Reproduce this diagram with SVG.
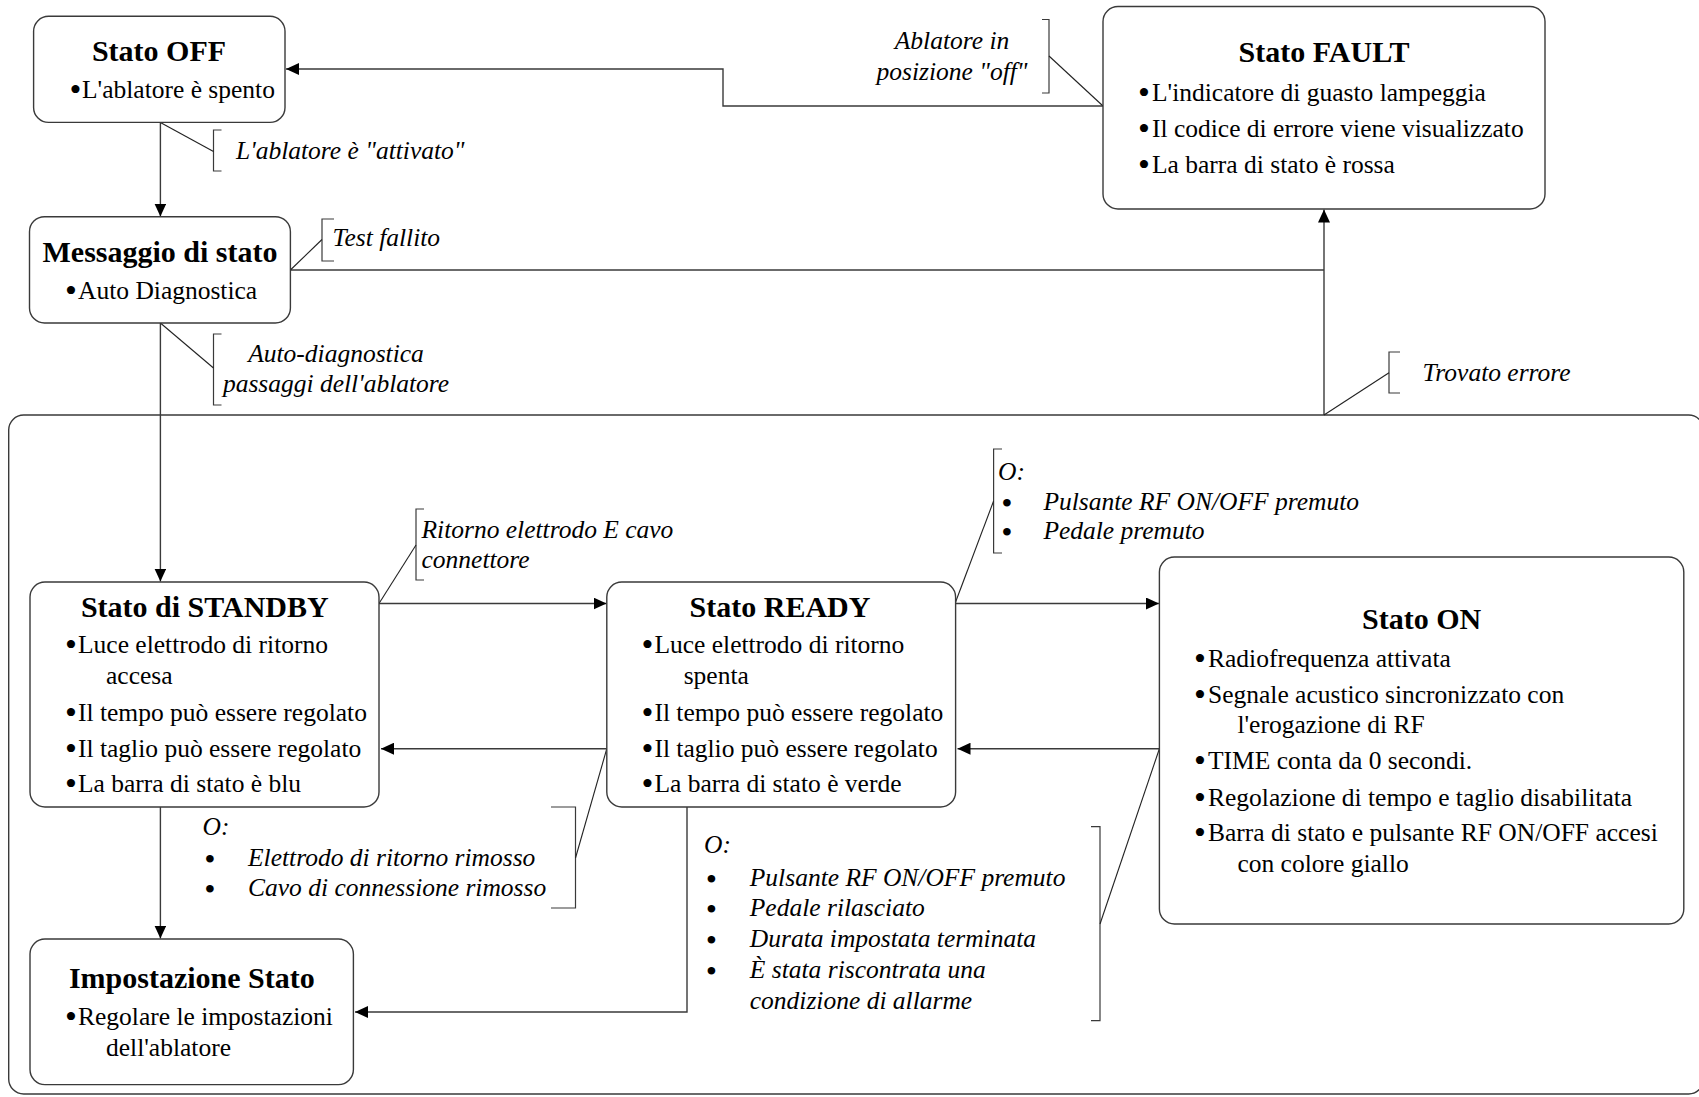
<svg xmlns="http://www.w3.org/2000/svg" width="1699" height="1097" viewBox="0 0 1699 1097">
<style>
.box{fill:#fff;stroke:#3a3a3a;stroke-width:1.4}
.cont{fill:none;stroke:#3a3a3a;stroke-width:1.4}
.ln{fill:none;stroke:#3a3a3a;stroke-width:1.4}
.br{fill:none;stroke:#3a3a3a;stroke-width:1.2}
.ld{fill:none;stroke:#222;stroke-width:1.1}
text{font-family:"Liberation Serif","Times New Roman",serif;fill:#000}
.t{font-size:30px;font-weight:bold;text-anchor:middle}
.b{font-size:25.5px}
.d{font-size:34px}
.e{font-size:28px;font-weight:bold}
.i{font-size:25.5px;font-style:italic}
.c{text-anchor:middle}
</style>
<defs>
<marker id="ah" markerUnits="userSpaceOnUse" markerWidth="14" markerHeight="12" refX="13" refY="6" orient="auto">
<path d="M0,0 L13,6 L0,12 z" fill="#000"/>
</marker>
</defs>

<rect class="cont" x="8.7" y="415" width="1695" height="679" rx="15"/>

<g id="connectors">
<polyline class="ln" points="1103,106 723,106 723,69 286,69" marker-end="url(#ah)"/>
<line class="ln" x1="160.4" y1="122.4" x2="160.4" y2="216.5" marker-end="url(#ah)"/>
<polyline class="ln" points="290.4,270 1324,270"/>
<line class="ln" x1="1324" y1="415" x2="1324" y2="209.5" marker-end="url(#ah)"/>
<line class="ln" x1="160.4" y1="323" x2="160.4" y2="581.5" marker-end="url(#ah)"/>
<line class="ln" x1="379" y1="603.5" x2="606.5" y2="603.5" marker-end="url(#ah)"/>
<line class="ln" x1="606.8" y1="748.7" x2="381" y2="748.7" marker-end="url(#ah)"/>
<line class="ln" x1="160.4" y1="807" x2="160.4" y2="938.5" marker-end="url(#ah)"/>
<polyline class="ln" points="687,807 687,1012 355,1012" marker-end="url(#ah)"/>
<line class="ln" x1="955.6" y1="603.5" x2="1159" y2="603.5" marker-end="url(#ah)"/>
<line class="ln" x1="1159.4" y1="748.7" x2="957.5" y2="748.7" marker-end="url(#ah)"/>

<path class="br" d="M1042,19.5 H1049 V93 H1042"/>
<line class="ld" x1="1049" y1="56" x2="1103" y2="106"/>
<path class="br" d="M221.5,130 H213.5 V171 H221.5"/>
<line class="ld" x1="213.5" y1="151.5" x2="160.4" y2="122.4"/>
<path class="br" d="M334,219 H322 V261 H334"/>
<line class="ld" x1="322" y1="239.5" x2="290.4" y2="270"/>
<path class="br" d="M221.5,334 H213.5 V405 H221.5"/>
<line class="ld" x1="213.5" y1="368" x2="160.4" y2="323"/>
<path class="br" d="M1400,352 H1389 V393 H1400"/>
<line class="ld" x1="1389" y1="372.7" x2="1324" y2="415"/>
<path class="br" d="M424,509 H416 V580 H424"/>
<line class="ld" x1="416" y1="545" x2="379" y2="603.5"/>
<path class="br" d="M1002,449 H993.6 V553 H1002"/>
<line class="ld" x1="993.6" y1="501" x2="955.6" y2="602"/>
<path class="br" d="M551,807 H575.5 V908 H551"/>
<line class="ld" x1="575.5" y1="858" x2="606.8" y2="748.7"/>
<path class="br" d="M1091,826.7 H1100 V1020.7 H1091"/>
<line class="ld" x1="1100" y1="924" x2="1159.4" y2="748.7"/>
</g>

<g id="labels">
<text class="i c" x="952" y="49">Ablatore in</text>
<text class="i c" x="952" y="80">posizione "off"</text>
<text class="i" x="236" y="159">L'ablatore è "attivato"</text>
<text class="i" x="332.6" y="246">Test fallito</text>
<text class="i c" x="336" y="362">Auto-diagnostica</text>
<text class="i c" x="336" y="392">passaggi dell'ablatore</text>
<text class="i" x="1422.6" y="381">Trovato errore</text>
<text class="i" x="421.5" y="538">Ritorno elettrodo E cavo</text>
<text class="i" x="421.5" y="568">connettore</text>
<text class="i" x="998" y="480">O:</text>
<text class="e" x="1002" y="512">•</text>
<text class="i" x="1043.4" y="510">Pulsante RF ON/OFF premuto</text>
<text class="e" x="1002" y="541">•</text>
<text class="i" x="1043.4" y="539">Pedale premuto</text>
<text class="i" x="202.6" y="835">O:</text>
<text class="e" x="205" y="868">•</text>
<text class="i" x="248" y="866">Elettrodo di ritorno rimosso</text>
<text class="e" x="205" y="898">•</text>
<text class="i" x="248" y="896">Cavo di connessione rimosso</text>
<text class="i" x="704" y="853">O:</text>
<text class="e" x="706.5" y="888">•</text>
<text class="i" x="749.8" y="886">Pulsante RF ON/OFF premuto</text>
<text class="e" x="706.5" y="918">•</text>
<text class="i" x="749.8" y="916">Pedale rilasciato</text>
<text class="e" x="706.5" y="949">•</text>
<text class="i" x="749.8" y="947">Durata impostata terminata</text>
<text class="e" x="706.5" y="980">•</text>
<text class="i" x="749.8" y="978">È stata riscontrata una</text>
<text class="i" x="749.8" y="1009">condizione di allarme</text>
</g>

<g id="stato-off">
<rect class="box" x="33.6" y="16.3" width="251.4" height="106.1" rx="15"/>
<text class="t" x="159" y="61">Stato OFF</text>
<text class="d" x="69.5" y="101">•</text>
<text class="b" x="82" y="98">L'ablatore è spento</text>
</g>

<g id="stato-fault">
<rect class="box" x="1103" y="6.5" width="442" height="202.5" rx="15"/>
<text class="t" x="1324" y="62">Stato FAULT</text>
<text class="d" x="1138" y="104">•</text>
<text class="b" x="1152" y="101">L'indicatore di guasto lampeggia</text>
<text class="d" x="1138" y="140">•</text>
<text class="b" x="1152" y="137">Il codice di errore viene visualizzato</text>
<text class="d" x="1138" y="176">•</text>
<text class="b" x="1152" y="173">La barra di stato è rossa</text>
</g>

<g id="messaggio">
<rect class="box" x="29.5" y="216.7" width="260.9" height="106.3" rx="15"/>
<text class="t" x="160" y="262">Messaggio di stato</text>
<text class="d" x="65" y="302">•</text>
<text class="b" x="78" y="299">Auto Diagnostica</text>
</g>

<g id="standby">
<rect class="box" x="30" y="582" width="349" height="225" rx="15"/>
<text class="t" x="204.8" y="617">Stato di STANDBY</text>
<text class="d" x="65" y="656">•</text>
<text class="b" x="78" y="653">Luce elettrodo di ritorno</text>
<text class="b" x="106" y="684">accesa</text>
<text class="d" x="65" y="724">•</text>
<text class="b" x="78" y="721">Il tempo può essere regolato</text>
<text class="d" x="65" y="760">•</text>
<text class="b" x="78" y="757">Il taglio può essere regolato</text>
<text class="d" x="65" y="795">•</text>
<text class="b" x="78" y="792">La barra di stato è blu</text>
</g>

<g id="ready">
<rect class="box" x="606.8" y="582" width="348.8" height="225" rx="15"/>
<text class="t" x="780" y="617">Stato READY</text>
<text class="d" x="641.6" y="656">•</text>
<text class="b" x="654.4" y="653">Luce elettrodo di ritorno</text>
<text class="b" x="683.7" y="684">spenta</text>
<text class="d" x="641.6" y="724">•</text>
<text class="b" x="654.4" y="721">Il tempo può essere regolato</text>
<text class="d" x="641.6" y="760">•</text>
<text class="b" x="654.4" y="757">Il taglio può essere regolato</text>
<text class="d" x="641.6" y="795">•</text>
<text class="b" x="654.4" y="792">La barra di stato è verde</text>
</g>

<g id="stato-on">
<rect class="box" x="1159.4" y="557" width="524.4" height="367" rx="15"/>
<text class="t" x="1421.6" y="629">Stato ON</text>
<text class="d" x="1194" y="670">•</text>
<text class="b" x="1208" y="667">Radiofrequenza attivata</text>
<text class="d" x="1194" y="705.5">•</text>
<text class="b" x="1208" y="702.5">Segnale acustico sincronizzato con</text>
<text class="b" x="1237.4" y="733">l'erogazione di RF</text>
<text class="d" x="1194" y="772">•</text>
<text class="b" x="1208" y="769">TIME conta da 0 secondi.</text>
<text class="d" x="1194" y="808.5">•</text>
<text class="b" x="1208" y="805.5">Regolazione di tempo e taglio disabilitata</text>
<text class="d" x="1194" y="844">•</text>
<text class="b" x="1208" y="841">Barra di stato e pulsante RF ON/OFF accesi</text>
<text class="b" x="1237.4" y="872">con colore giallo</text>
</g>

<g id="impostazione">
<rect class="box" x="30" y="939" width="323.4" height="145.6" rx="15"/>
<text class="t" x="191.8" y="988">Impostazione Stato</text>
<text class="d" x="65" y="1028">•</text>
<text class="b" x="78" y="1025">Regolare le impostazioni</text>
<text class="b" x="106" y="1056">dell'ablatore</text>
</g>
</svg>
